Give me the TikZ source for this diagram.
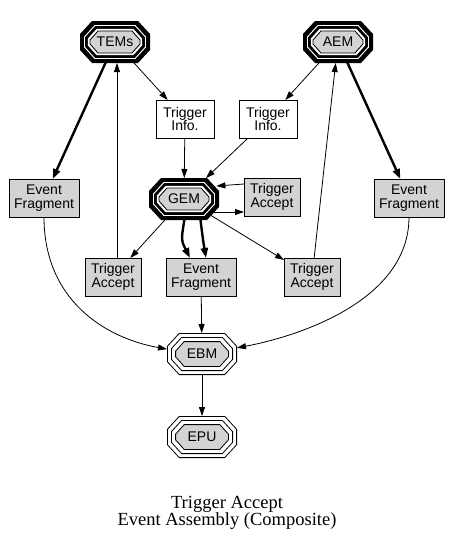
\documentclass[tikz,border=0pt]{standalone}
\usepackage{fontspec}
\newfontfamily\nodefont{Liberation Sans}
\newfontfamily\captionfont{Liberation Serif}
\usetikzlibrary{arrows.meta,calc}
\definecolor{lgray}{HTML}{D3D3D3}
\tikzset{
  lbl/.style={font=\nodefont\fontsize{14}{13.5}\selectfont, align=center},
  octanchor/.style={rectangle, inner sep=0pt, outer sep=0pt, minimum width=70pt, minimum height=42pt},
  boxn/.style={rectangle, draw=black, line width=0.8pt, inner sep=0pt, outer sep=0pt, minimum height=38pt, lbl},
  tibox/.style={boxn, fill=white, minimum width=58pt},
  tabox/.style={boxn, fill=lgray, minimum width=56pt},
  efbox/.style={boxn, fill=lgray, minimum width=70pt},
  arr/.style={line width=0.8pt, -{Triangle[length=9pt,width=6pt]}},
  barr/.style={line width=2.4pt, -{Triangle[length=10pt,width=7pt]}},
  capt/.style={font=\captionfont\fontsize{18.5}{19}\selectfont, anchor=base, inner sep=0pt}
}
% octagon around node #1, inset #2, path options #3
\newcommand\octo[3]{%
  \pgfmathsetmacro\ohw{35-#2}%
  \pgfmathsetmacro\ohh{21-#2}%
  \pgfmathsetmacro\ocx{12-0.4*#2}%
  \pgfmathsetmacro\ocy{13-0.4*#2}%
  \path[#3] ($(#1)+({-\ohw+\ocx},{-\ohh})$) -- ($(#1)+({\ohw-\ocx},{-\ohh})$)
    -- ($(#1)+({\ohw},{-\ohh+\ocy})$) -- ($(#1)+({\ohw},{\ohh-\ocy})$)
    -- ($(#1)+({\ohw-\ocx},{\ohh})$) -- ($(#1)+({-\ohw+\ocx},{\ohh})$)
    -- ($(#1)+({-\ohw},{\ohh-\ocy})$) -- ($(#1)+({-\ohw},{-\ohh+\ocy})$) -- cycle;%
}
\newcommand\boldoct[2]{%
  \octo{#1}{0}{fill=black}
  \octo{#1}{4.2}{fill=white}
  \octo{#1}{5.2}{fill=black}
  \octo{#1}{7.8}{fill=white}
  \octo{#1}{10}{fill=lgray, draw=black, line width=0.8pt}
  \node[lbl, inner sep=0pt] (#1-t) at (#1) {#2};
}
\newcommand\plainoct[2]{%
  \octo{#1}{0.4}{fill=white, draw=black, line width=0.8pt}
  \octo{#1}{4.4}{draw=black, line width=0.8pt}
  \octo{#1}{8.6}{fill=lgray, draw=black, line width=0.8pt}
  \node[lbl, inner sep=0pt] (#1-t) at (#1) {#2};
}
\begin{document}
\begin{tikzpicture}[x=1pt,y=-1pt]
\fill[white] (0,0) rectangle (452,547);
\path[use as bounding box] (0,0) rectangle (452,547);

% anchor nodes of the octagons
\node[octanchor] (TEMs) at (115,42) {};
\node[octanchor] (AEM) at (338,42) {};
\node[octanchor] (GEM) at (184,199) {};
\node[octanchor] (EBM) at (202,354) {};
\node[octanchor] (EPU) at (202,437) {};

\node[tibox] (TI1) at (185,119) {Trigger\\Info.};
\node[tibox] (TI2) at (268,119) {Trigger\\Info.};
\node[efbox] (EF1) at (44,198) {Event\\Fragment};
\node[tabox] (TA0) at (272,197) {Trigger\\Accept};
\node[efbox] (EF2) at (409,198) {Event\\Fragment};
\node[tabox] (TA1) at (113,277) {Trigger\\Accept};
\node[efbox] (EF3) at (201,277) {Event\\Fragment};
\node[tabox] (TA2) at (312,277) {Trigger\\Accept};

\draw[barr] (TEMs.center) -- (EF1);
\draw[arr] (TEMs.center) -- (TI1);
\draw[arr] ($(TA1.north)+(4,0)$) -- ($(TEMs.south)+(2,0)$);
\draw[arr] (TI1) -- (GEM);
\draw[arr] (TI2) -- (GEM);
\draw[arr] (AEM.center) -- (TI2);
\draw[barr] (AEM.center) -- (EF2);
\draw[arr] (TA2) -- (AEM);
\draw[arr] ($(TA0.west)+(0,-13)$) -- ($(GEM.east)+(-2.6,-13)$);
\draw[arr] (GEM.center) ++(30,13) -- ($(TA0.west)+(0,15)$);
\draw[arr] (GEM.center) -- (TA1);
\draw[barr] ($(GEM.south)+(1,-4)$) .. controls (181,240) .. ($(EF3.north)+(-11,0)$);
\draw[barr] ($(GEM.south)+(16,-4)$) .. controls (203,240) .. ($(EF3.north)+(5,0)$);
\draw[arr] (GEM.center) -- (TA2);
\draw[arr] (EF1.south) .. controls (44,300) and (105,338) .. (EBM.172);
\draw[arr] (EF2.south) .. controls (409,300) and (300,336) .. (EBM.10);
\draw[arr] (EF3) -- (EBM);
\draw[arr] (EBM) -- (EPU);

\boldoct{TEMs}{TEMs}
\boldoct{AEM}{AEM}
\boldoct{GEM}{GEM}
\plainoct{EBM}{EBM}
\plainoct{EPU}{EPU}

\node[capt] (cap1) at (227,508) {Trigger Accept};
\node[capt] (cap2) at (227,525.5) {Event Assembly (Composite)};
\end{tikzpicture}
\end{document}
